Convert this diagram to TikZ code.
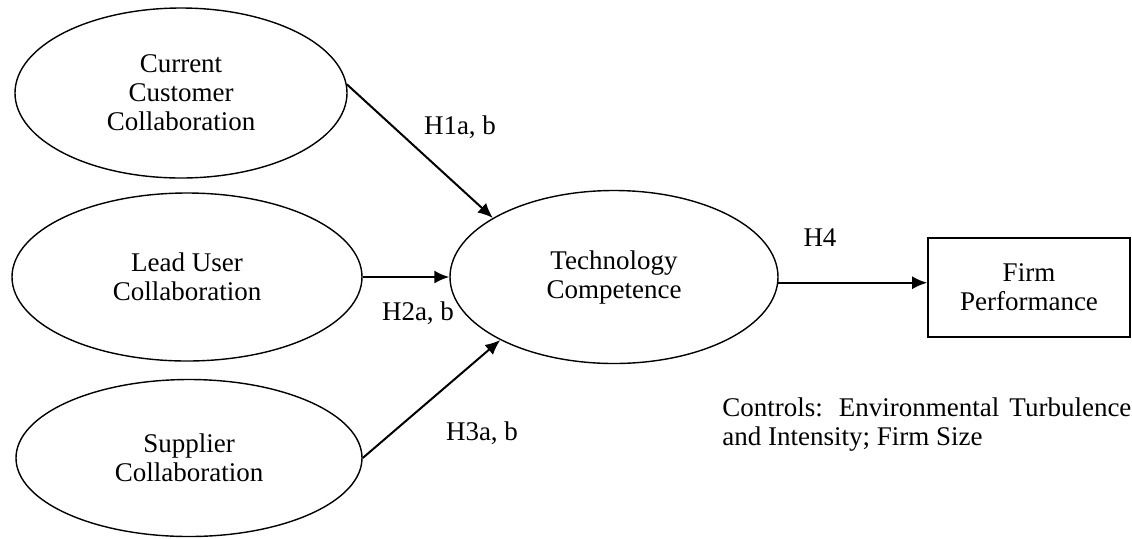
\documentclass[tikz,border=0pt]{standalone}
\usepackage{fontspec}
\setmainfont{Liberation Serif}
\usepackage{tikz}
\usetikzlibrary{arrows.meta,shapes.geometric}
\tikzstyle{construct}=[ellipse, draw, line width=0.7pt, inner sep=0pt, align=center,% a latent variable
font=\fontsize{13.5}{14.5}\selectfont]
\tikzstyle{outcome}=[rectangle, draw, line width=0.8pt, inner sep=0pt, align=center,
font=\fontsize{13.5}{14.5}\selectfont]
\tikzstyle{hyp}=[-{Latex[length=7.5pt,width=6.5pt]}, line width=1pt]
\tikzstyle{hlabel}=[inner sep=0pt, font=\fontsize{13.5}{14.5}\selectfont]

\begin{document}
\begin{tikzpicture}[x=0.5pt,y=-0.5pt]
\useasboundingbox (0,0) rectangle (1132,538);

\node[construct, minimum width=166pt, minimum height=85pt] (cc) at (181,93) {Current\\Customer\\Collaboration};
\node[construct, minimum width=175pt, minimum height=84pt] (lu) at (187,277) {Lead User\\Collaboration};
\node[construct, minimum width=173pt, minimum height=78.5pt] (sc) at (189,458) {Supplier\\Collaboration};

\node[construct, minimum width=164pt, minimum height=86.5pt] (tc) at (614,277) {Technology\\Competence};
\node[outcome, minimum width=101pt, minimum height=49.5pt] (fp) at (1029,287.5) {Firm\\Performance};

\node[hlabel] (h1) at (460,127) {H1a, b};
\node[hlabel] (h2) at (418,313) {H2a, b};
\node[hlabel] (h3) at (482,433) {H3a, b};
\node[hlabel] (h4) at (820,238) {H4};

\node[hlabel, anchor=north west, text width=204.5pt, align=justify] (ctrl) at (722,397)
  {Controls: Environmental Turbulence\linebreak and Intensity; Firm Size};

\draw [hyp]  (cc.3) -- (tc.154);
\draw [hyp]  (lu.east) -- (tc.west);
\draw [hyp]  (sc.east) -- (tc.209);
\draw [hyp]  (tc.-2) -- (tc.-2 -| fp.west);

\end{tikzpicture}
\end{document}
